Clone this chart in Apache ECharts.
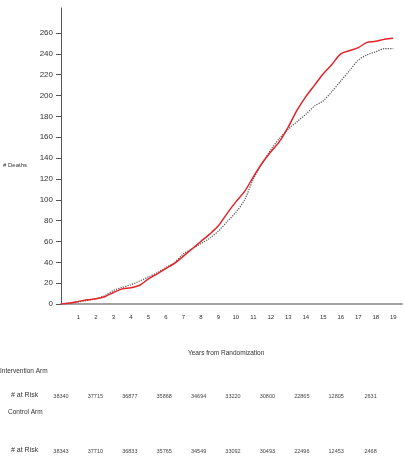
<!DOCTYPE html>
<html>
<head>
<meta charset="utf-8">
<script src="https://cdn.jsdelivr.net/npm/echarts@6/dist/echarts.min.js"></script>
<style>html,body{margin:0;padding:0;background:#fff}#c{width:404px;height:462px}</style>
</head>
<body>
<div id="c"></div>
<script>
const years = [0,0.5,1,1.5,2,2.5,3,3.5,4,4.5,5,5.5,6,6.5,7,7.5,8,8.5,9,9.5,10,10.5,11,11.5,12,12.5,13,13.5,14,14.5,15,15.5,16,16.5,17,17.5,18,18.5,19];
const intervention = [0,1,2.5,4,5,7,11,14.5,15.5,18,24,29,34,39,46,53,60,67,75,87,98,108,122,135,146,156,170,186,199,210,221,230,240,243,246,251,252,254,255];
const control = [0,1,2,3.5,5,8,13,16,18.5,22,26,30,35,40,48,53,58,63,70,79,88,100,120,135,148,159,168,175,182,190,195,204,214,224,234,239,242,245,245];
const xTicks = [1,2,3,4,5,6,7,8,9,10,11,12,13,14,15,16,17,18,19];
const yTicks = [0,20,40,60,80,100,120,140,160,180,200,220,240,260];
const interventionRisk = ['38340','37715','36877','35868','34694','33220','30800','22865','12805','2631'];
const controlRisk = ['38343','37710','36833','35765','34549','33092','30493','22496','12453','2468'];

const font = 'Liberation Sans, Arial, sans-serif';
const textCol = '#333';
const graphics = [
  {type:'text', left:3, top:162, style:{text:'# Deaths', font:'6px ' + font, fill:textCol}},
  {type:'text', left:188, top:350, style:{text:'Years from Randomization', font:'6.5px ' + font, fill:textCol}},
  {type:'text', left:0, top:368, style:{text:'Intervention Arm', font:'6.5px ' + font, fill:textCol}},
  {type:'text', left:11, top:392, style:{text:'# at Risk', font:'7px ' + font, fill:textCol}},
  {type:'text', left:8, top:409, style:{text:'Control Arm', font:'6.5px ' + font, fill:textCol}},
  {type:'text', left:11, top:447, style:{text:'# at Risk', font:'7px ' + font, fill:textCol}}
];
interventionRisk.forEach((v,i)=>{
  graphics.push({type:'text', x:61 + i*34.4, y:396, style:{text:v, font:'5.5px ' + font, fill:'#444', align:'center', verticalAlign:'middle'}});
});
controlRisk.forEach((v,i)=>{
  graphics.push({type:'text', x:61 + i*34.4, y:451, style:{text:v, font:'5.5px ' + font, fill:'#444', align:'center', verticalAlign:'middle'}});
});

const chart = echarts.init(document.getElementById('c'), null, {renderer:'canvas'});
chart.setOption({
  animation:false,
  backgroundColor:'#fff',
  grid:{left:61, right:2, top:8, bottom:158, containLabel:false},
  xAxis:{
    type:'value', min:0, max:19.5,
    axisLine:{show:true, lineStyle:{color:'#a0a0a0', width:2}},
    axisTick:{show:false},
    splitLine:{show:false},
    axisLabel:{customValues:xTicks, fontSize:6, color:'#333', margin:10, fontFamily:font}
  },
  yAxis:{
    type:'value', min:0, max:284,
    axisLine:{show:true, lineStyle:{color:'#555', width:1}},
    axisTick:{show:true, customValues:yTicks, length:5, lineStyle:{color:'#555'}},
    splitLine:{show:false},
    axisLabel:{customValues:yTicks, fontSize:8, color:'#333', margin:8, fontFamily:font}
  },
  series:[
    {type:'line', data:years.map((y,i)=>[y, control[i]]), showSymbol:false, smooth:0.3,
     lineStyle:{color:'#555', width:1.2, type:'dotted'}, z:2},
    {type:'line', data:years.map((y,i)=>[y, intervention[i]]), showSymbol:false, smooth:0.3,
     lineStyle:{color:'#e3242b', width:1.5}, z:3}
  ],
  graphic:graphics
});
</script>
</body>
</html>
